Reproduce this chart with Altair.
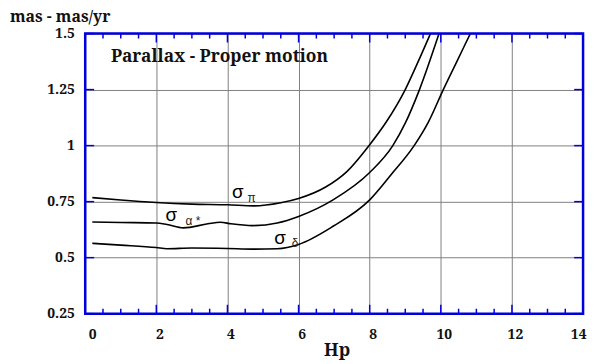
import altair as alt
import pandas as pd

# ---- data ----
pi_x = [0.2, 1.0, 2.0, 3.0, 4.0, 4.75, 5.5, 6.0, 6.75, 7.35, 8.0, 8.46, 9.0, 9.35, 9.71]
pi_y = [0.768, 0.757, 0.746, 0.739, 0.736, 0.731, 0.745, 0.764, 0.814, 0.883, 1.004, 1.104, 1.25, 1.37, 1.5]

al_x = [0.2, 1.0, 2.0, 2.3, 2.76, 3.45, 3.8, 4.1, 4.7, 5.4, 6.0, 6.97, 8.0, 8.65, 9.0, 9.4, 9.95]
al_y = [0.659, 0.657, 0.655, 0.648, 0.633, 0.651, 0.658, 0.651, 0.643, 0.655, 0.684, 0.758, 0.880, 1.0, 1.1, 1.25, 1.5]

de_x = [0.2, 1.0, 2.0, 2.3, 3.0, 4.0, 4.7, 5.4, 6.0, 6.97, 8.0, 8.6, 9.25, 9.65, 10.07, 10.45, 10.83]
de_y = [0.564, 0.556, 0.545, 0.540, 0.543, 0.541, 0.538, 0.540, 0.559, 0.640, 0.758, 0.87, 1.0, 1.105, 1.25, 1.375, 1.5]

x_major = [0, 2, 4, 6, 8, 10, 12, 14]
x_minor = [0.5, 1, 1.5, 2.5, 3, 3.5, 4.5, 5, 5.5, 6.5, 7, 7.5, 8.5, 9, 9.5,
           10.5, 11, 11.5, 12.5, 13, 13.5]
y_major = [0.25, 0.5, 0.75, 1.0, 1.25, 1.5]

sig_x = [4.29, 2.42, 5.48]
sig_y = [0.793, 0.692, 0.586]
sub_text = ["π", "α *", "δ"]
sub_x = [4.68, 3.03, 5.90]
sub_y = [0.767, 0.665, 0.564]

W, H = 503, 283
BLUE = "#0000dd"
SERIF = "Noto Serif"

rows = []
for name, xs, ys in [("pi", pi_x, pi_y), ("alpha", al_x, al_y), ("delta", de_x, de_y)]:
    for a, b in zip(xs, ys):
        rows.append({"s": name, "hp": a, "v": b})
df = pd.DataFrame(rows)

xs = alt.Scale(domain=[0, 14], nice=False)
ys = alt.Scale(domain=[0.25, 1.5], nice=False)

xaxis = alt.Axis(values=x_major, grid=True, gridColor="#808080", gridWidth=1,
                 domain=False, ticks=False, labelFont=SERIF, labelFontWeight="bold",
                 labelFontSize=14, labelColor="#111111", labelPadding=14, labelOffset=3,
                 title="Hp", titleFont=SERIF, titleFontWeight="bold", titleFontSize=18,
                 titleColor="#111111", titlePadding=0, titleX=254)
yaxis = alt.Axis(values=y_major, grid=True, gridColor="#808080", gridWidth=1,
                 domain=False, ticks=False, labelFont=SERIF, labelFontWeight="bold",
                 labelFontSize=14, labelColor="#111111", labelPadding=11,
                 labelExpr="'' + datum.value", title=None)

lines = alt.Chart(df).mark_line(color="black", strokeWidth=1.6, interpolate="monotone",
                                clip=True).encode(
    x=alt.X("hp:Q", scale=xs, axis=xaxis),
    y=alt.Y("v:Q", scale=ys, axis=yaxis),
    detail="s:N",
)

tx_major = pd.DataFrame({"t": x_major})
tx_minor = pd.DataFrame({"t": x_minor})
ty_major = pd.DataFrame({"t": y_major})

bot_major = alt.Chart(tx_major).mark_rule(color=BLUE, strokeWidth=1.5).encode(
    x=alt.X("t:Q", scale=xs), y=alt.value(H), y2=alt.value(H - 9))
bot_minor = alt.Chart(tx_minor).mark_rule(color=BLUE, strokeWidth=1.5).encode(
    x=alt.X("t:Q", scale=xs), y=alt.value(H), y2=alt.value(H - 5))
top_major = alt.Chart(tx_major).mark_rule(color=BLUE, strokeWidth=1.5).encode(
    x=alt.X("t:Q", scale=xs), y=alt.value(0), y2=alt.value(9))
top_minor = alt.Chart(tx_minor).mark_rule(color=BLUE, strokeWidth=1.5).encode(
    x=alt.X("t:Q", scale=xs), y=alt.value(0), y2=alt.value(5))
left_t = alt.Chart(ty_major).mark_rule(color=BLUE, strokeWidth=1.5).encode(
    y=alt.Y("t:Q", scale=ys), x=alt.value(0), x2=alt.value(9))
right_t = alt.Chart(ty_major).mark_rule(color=BLUE, strokeWidth=1.5).encode(
    y=alt.Y("t:Q", scale=ys), x=alt.value(W), x2=alt.value(W - 9))

frame = alt.Chart(pd.DataFrame({"a": [0]})).mark_rect(
    fillOpacity=0, stroke=BLUE, strokeWidth=2.5).encode(
    x=alt.value(0), x2=alt.value(W), y=alt.value(0), y2=alt.value(H))

sig_df = pd.DataFrame({"x": sig_x, "y": sig_y, "t": ["σ"] * 3})
sub_df = pd.DataFrame({"x": sub_x, "y": sub_y, "t": sub_text})
sig = alt.Chart(sig_df).mark_text(font="Liberation Sans", fontSize=19, color="black").encode(
    x=alt.X("x:Q", scale=xs), y=alt.Y("y:Q", scale=ys), text="t:N")
sub = alt.Chart(sub_df).mark_text(font="Liberation Sans", fontSize=12, color="#222222").encode(
    x=alt.X("x:Q", scale=xs), y=alt.Y("y:Q", scale=ys), text="t:N")

ylab = alt.Chart(pd.DataFrame({"t": ["mas  - mas/yr"]})).mark_text(
    font=SERIF, fontSize=16, fontWeight="bold", align="left", baseline="alphabetic",
    color="#111111").encode(x=alt.value(-76), y=alt.value(-12), text="t:N")
inner = alt.Chart(pd.DataFrame({"t": ["Parallax - Proper motion"]})).mark_text(
    font=SERIF, fontSize=17.5, fontWeight="bold", align="left", baseline="alphabetic",
    color="#111111").encode(x=alt.value(26), y=alt.value(29), text="t:N")

chart = alt.layer(lines, bot_major, bot_minor, top_major, top_minor, left_t, right_t,
                  frame, sig, sub, ylab, inner).properties(
    width=W, height=H, autosize="none",
    padding={"left": 78, "top": 24, "right": 6, "bottom": 48},
).configure_view(stroke=None)

chart.save("out.html", embed_options={"renderer": "svg", "actions": False})
